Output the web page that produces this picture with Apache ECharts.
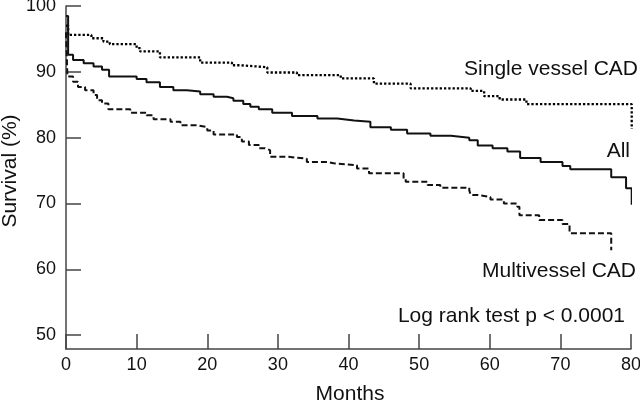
<!DOCTYPE html>
<html>
<head>
<meta charset="utf-8">
<script src="https://cdn.jsdelivr.net/npm/echarts@6/dist/echarts.min.js"></script>
<style>html,body{margin:0;padding:0;background:#fff}#c{width:640px;height:402px}</style>
</head>
<body>
<div id="c"></div>
<script>
// Kaplan–Meier survival curves: [month, survival %]
var allData = [[0,98.5],[0.3,92.6],[1.0,91.8],[2.5,91.3],[3.9,90.8],[5.1,90.3],[6.1,89.3],[10,88.9],[11.4,88.4],[13.3,87.7],[15.2,87.2],[17.1,87.0],[19,86.6],[20.9,86.2],[22.8,86.0],[23.7,85.6],[25.1,85.1],[26.1,84.7],[27.3,84.3],[29.2,83.8],[32,83.3],[35.6,82.9],[38.4,82.6],[40.8,82.4],[43.1,81.6],[46,81.2],[48.3,80.65],[51.6,80.3],[54.5,80.0],[57.1,79.6],[58.3,78.8],[60.4,78.4],[62.5,77.9],[64.3,76.9],[67.2,76.3],[70.3,75.7],[71.4,75.2],[77.2,74.0],[79.3,72.3],[80.1,69.8]];
var singleData = [[0,97],[0.3,95.6],[3.6,95.1],[5.3,94.6],[6.2,94.2],[10,93.6],[10.5,93.1],[13.3,92.2],[19,91.4],[23.5,91.0],[24.7,90.7],[28.5,89.9],[32.7,89.5],[38.9,89.0],[43.6,88.2],[48.8,87.5],[57.3,87.1],[59.2,86.3],[61.4,85.8],[65.2,85.1],[80.1,81.3]];
var multiData = [[0,96],[0.2,89.3],[1.0,88.5],[1.7,87.7],[2.7,87.2],[3.9,86.5],[4.4,85.7],[5.1,85.2],[6.0,84.3],[9.1,83.8],[11.4,83.4],[12.4,82.8],[14.8,82.4],[16.2,81.9],[18.5,81.6],[20,81.1],[20.9,80.5],[24.2,80.1],[24.9,79.4],[25.9,78.9],[27.3,78.4],[28.2,78.1],[28.9,77.1],[31.5,76.8],[34.1,76.3],[37,76.1],[37.9,75.8],[41.2,75.3],[42.9,74.6],[47.8,73.8],[48.1,73.3],[51.2,72.8],[53,72.4],[57.1,72.0],[57.3,71.3],[58.3,71.0],[60.1,70.6],[62,70.0],[63.9,69.5],[64.2,68.2],[67,67.5],[70.3,66.9],[71.3,65.5],[77.2,62.9]];
var yTicks = [50, 60, 70, 80, 90, 100];
var xTicks = [0, 10, 20, 30, 40, 50, 60, 70, 80];
var labels = {
  single: 'Single vessel CAD',
  all: 'All',
  multi: 'Multivessel CAD',
  test: 'Log rank test p < 0.0001',
  xName: 'Months',
  yName: 'Survival (%)'
};

var FONT = '"Liberation Sans", Arial, Helvetica, sans-serif';
var chart = echarts.init(document.getElementById('c'), null, {renderer: 'canvas'});
var axisColor = '#444';
var lineColor = '#111';
function txt(text, x, y, align, extra) {
  var o = {
    type: 'text', x: x, y: y, silent: true,
    style: {text: text, font: '21px ' + FONT, fill: '#111', textAlign: align, textVerticalAlign: 'middle'}
  };
  if (extra) for (var k in extra) o[k] = extra[k];
  return o;
}
chart.setOption({
  animation: false,
  backgroundColor: '#fff',
  grid: {left: 66, right: 9, top: 6, bottom: 53, containLabel: false, outerBoundsMode: 'none'},
  xAxis: {
    type: 'value', min: 0, max: 80, interval: 10,
    axisLine: {show: true, lineStyle: {color: axisColor, width: 1.5}},
    axisTick: {show: true, inside: true, length: 15, lineStyle: {color: axisColor, width: 1.5}, customValues: xTicks},
    axisLabel: {fontSize: 18, color: '#111', fontFamily: FONT, margin: 7, customValues: xTicks},
    splitLine: {show: false}
  },
  yAxis: {
    type: 'value', min: 47.9, max: 100,
    axisLine: {show: true, lineStyle: {color: axisColor, width: 1.5}},
    axisTick: {show: true, inside: true, length: 15, lineStyle: {color: axisColor, width: 1.5}, customValues: yTicks},
    axisLabel: {fontSize: 18, color: '#111', fontFamily: FONT, margin: 10, customValues: yTicks},
    splitLine: {show: false}
  },
  series: [
    {type: 'line', name: 'Single vessel CAD', data: singleData, step: 'end', symbol: 'none', clip: false,
     lineStyle: {color: '#000', width: 2.3, type: [2.3, 2]}},
    {type: 'line', name: 'All', data: allData, step: 'end', symbol: 'none', clip: false,
     lineStyle: {color: lineColor, width: 2, type: 'solid'}},
    {type: 'line', name: 'Multivessel CAD', data: multiData, step: 'end', symbol: 'none', clip: false,
     lineStyle: {color: lineColor, width: 2, type: [6, 3]}}
  ],
  graphic: [
    txt(labels.single, 638, 69, 'right'),
    txt(labels.all, 630, 151, 'right'),
    txt(labels.multi, 636, 271, 'right'),
    txt(labels.test, 625, 316, 'right'),
    txt(labels.xName, 350, 394, 'center'),
    txt(labels.yName, 10, 171, 'center', {rotation: Math.PI / 2})
  ]
});
</script>
</body>
</html>
